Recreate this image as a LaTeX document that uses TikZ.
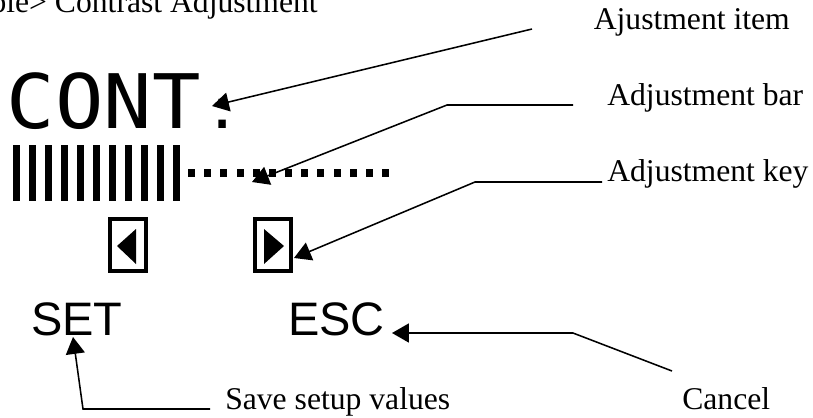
\documentclass[tikz,border=0pt]{standalone}
\usepackage{fontspec}
\setmainfont{Liberation Serif}
\newfontfamily\lcdfont[FakeStretch=1.07]{DejaVu Sans Mono}
\newfontfamily\keyfont{Liberation Sans}
\usetikzlibrary{arrows.meta}

\begin{document}
\begin{tikzpicture} [x = 0.025cm, y = -0.025cm,
	lbl/.style = {anchor = base west, inner sep = 0, font = \fontsize{22.5}{27}\selectfont},
	keytext/.style = {anchor = base west, inner sep = 0, font = \keyfont\fontsize{33.4}{40}\selectfont},
	pointer/.style = {line width = 1.1pt, -{Triangle[length = 12pt, width = 13.5pt]}},
	keybox/.style = {draw, line width = 2.85pt, minimum width = 0.9cm, minimum height = 1.3cm, inner sep = 0}]
	\useasboundingbox (0,0) rectangle (813,417);
	\clip (0,0) rectangle (813,417);
	\node [lbl, anchor = base east] (title) at (318,12.5) {<Example> Contrast Adjustment};
	% display
	\node [anchor = base west, inner sep = 0, font = \lcdfont\fontsize{53.5}{60}\selectfont] (cont) at (6.6,128) {CONT\kern 3pt{\fontsize{40}{48}\selectfont:}};
	\foreach \i in {0,...,10} \fill (13+16*\i,145) rectangle ++(7,56);
	\foreach \i in {0,...,12} \fill (188+16.17*\i,169) rectangle ++(7,8);
	\node [keybox] (keyleft) at (128,245) {};
	\node [keybox] (keyright) at (273,245) {};
	\fill (117,246) -- (136,229) -- (136,264) -- cycle;
	\fill (284,246) -- (264,229) -- (264,264) -- cycle;
	\node [keytext] (set) at (31,335) {SET};
	\node [keytext] (esc) at (288,335) {ESC};
	% labels
	\node [lbl] (item) at (593.5,29.3) {Ajustment item};
	\node [lbl] (bar) at (607,105.5) {Adjustment bar};
	\node [lbl] (key) at (607,181) {Adjustment key};
	\node [lbl] (save) at (225,409) {Save setup values};
	\node [lbl] (cancel) at (682,409) {Cancel};
	% pointers
	\coordinate (itemfrom) at (532,29);
	\coordinate (itemto) at (212,106);
	\coordinate (barfrom) at (573,105);
	\coordinate (barto) at (252,182);
	\coordinate (keyfrom) at (602,182);
	\coordinate (keyto) at (294,258);
	\coordinate (cancelfrom) at (672,371);
	\coordinate (cancelto) at (392,333);
	\coordinate (savefrom) at (210,409);
	\coordinate (saveto) at (73,337);
	\draw [pointer] (itemfrom) -- (itemto);
	\draw [pointer] (barfrom) -- (447,105) -- (barto);
	\draw [pointer] (keyfrom) -- (475,182) -- (keyto);
	\draw [pointer] (cancelfrom) -- (573,333) -- (cancelto);
	\draw [pointer] (savefrom) -- (83,409) -- (saveto);
\end{tikzpicture}
\end{document}
